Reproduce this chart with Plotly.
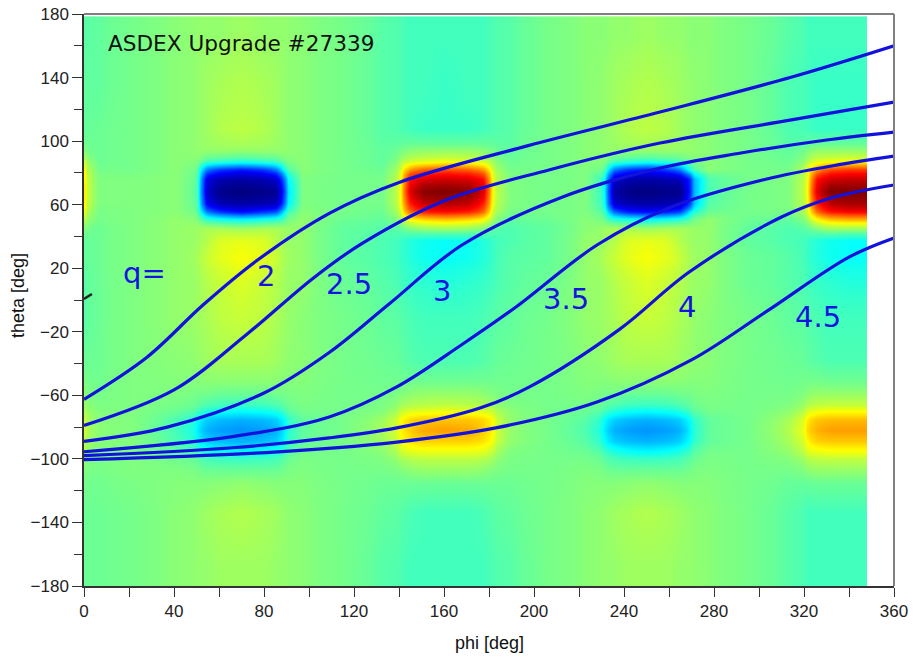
import plotly.graph_objects as go

# phi positions of the heat-map columns, theta positions of its rows
phi_knots = [0,3,20,47, 50,54,60,70,80,86,89,92, 115,137, 140,144,150,160,172,178,182,185, 205,228,
             231,235,241,250,259,265,269,273, 295,318, 321,325,331,340,348]
theta_knots = [178.5,130,105,92,87,82,77,68,60,55,51,46,38,28,12,-10,-40,-62,-69,-75,-82,-89,-95,-104,-125,-180]

r_p178 = [46,47,49,51, 52,52,52,53,52,52,52,51, 49,46, 45,44,44,44,44,44,45,46, 49,51, 51,52,52,53,52,52,51,51, 49,46, 44,44,44,44,44]
r_p130 = [47,47,49,51, 52,53,54,55,54,53,52,51, 49,46, 45,44,44,43,44,44,45,46, 49,51, 52,53,54,55,54,53,52,51, 49,45, 44,43,43,43,43]
r_p105 = [47,48,49,51, 52,53,55,56,55,53,52,51, 49,46, 45,44,43,43,43,44,45,46, 49,51, 52,53,55,56,55,53,52,51, 49,45, 44,43,43,43,43]
r_p92  = [50,48,49,51, 52,52,52,52,52,52,52,51, 49,47, 49,51,52,52,52,51,49,47, 49,51, 52,52,52,52,52,52,52,51, 49,47, 50,52,52,52,52]
r_p87  = [57,48,49,51, 50,44,42,40,42,44,48,51, 49,47, 54,58,60,62,60,58,53,48, 49,51, 50,44,42,40,42,44,48,51, 49,48, 55,60,62,63,63]
r_p82  = [61,49,49,51, 47,25,18,15,18,25,40,51, 49,48, 58,72,78,80,78,72,57,49, 49,50, 47,25,18,15,18,25,40,51, 49,49, 60,72,80,82,82]
r_p77  = [63,50,50,51, 45,10,5,4,5,8,25,50,     49,49, 61,86,91,92,91,86,60,50, 49,50, 38,8,5,4,5,6,16,45,     49,50, 61,86,92,93,93]
r_p68  = [64,50,50,51, 44,8,1,0,1,2,20,50,      49,49, 62,90,99,100,99,90,61,50, 49,50, 38,4,1,0,1,1,15,45,    49,50, 62,90,100,100,100]
r_p60  = [63,50,50,51, 45,12,5,4,5,6,24,50,     49,49, 61,84,93,95,93,84,60,50, 49,50, 39,8,5,4,5,6,18,46,     49,50, 61,84,94,96,96]
r_p55  = [60,49,50,51, 47,26,18,14,18,22,38,51, 49,48, 58,76,84,86,84,76,57,49, 49,50, 44,24,16,14,16,20,36,48, 49,49, 58,76,85,87,87]
r_p51  = [55,49,50,52, 50,43,40,38,40,42,46,52, 48,47, 53,62,66,68,66,62,53,47, 48,51, 48,42,40,38,40,42,46,52, 48,47, 53,62,68,70,70]
r_p46  = [50,48,50,52, 53,54,54,53,54,54,53,52, 47,46, 47,50,52,53,52,50,47,45, 47,51, 53,54,54,53,54,54,53,52, 47,45, 47,50,53,53,53]
r_p38  = [47,48,50,52, 53,55,59,60,59,55,53,52, 47,45, 43,41,39,38,39,41,43,45, 47,52, 53,55,59,60,59,55,53,52, 47,45, 43,41,39,38,38]
r_p28  = [47,48,50,52, 54,57,60,62,60,57,54,52, 47,45, 43,41,39,38,39,41,43,46, 47,52, 55,57,60,62,60,57,54,52, 48,46, 43,41,39,38,38]
r_p12  = [46,48,50,52, 53,55,57,59,57,55,53,52, 48,46, 44,43,42,41,42,43,44,46, 48,52, 53,55,57,59,57,55,53,52, 48,46, 44,43,42,41,41]
r_m10  = [46,48,50,52, 53,54,56,57,56,54,53,51, 49,47, 46,45,44,44,44,45,46,47, 49,52, 53,54,56,57,56,54,53,51, 49,47, 46,45,44,44,44]
r_m40  = [48,48,50,51, 52,53,54,54,54,53,52,51, 49,48, 47,46,45,45,45,46,47,48, 49,51, 52,53,54,54,54,53,52,51, 49,48, 47,46,45,45,45]
r_m62  = [51,49,50,50, 49,49,48,48,48,49,49,50, 49,49, 50,51,52,52,52,51,50,49, 49,50, 49,49,48,48,48,49,49,50, 49,49, 51,52,52,52,52]
r_m69  = [54,50,50,48, 45,42,40,39,40,42,45,49, 49,50, 56,58,59,60,59,58,56,51, 49,48, 45,42,40,39,40,42,45,49, 49,51, 58,60,61,61,61]
r_m75  = [57,51,50,45, 38,33,31,30,31,33,38,47, 49,53, 62,66,68,68,68,66,62,52, 49,46, 38,33,31,30,31,33,38,47, 49,54, 64,68,69,69,69]
r_m82  = [58,51,50,44, 36,30,28,27,28,30,36,47, 49,54, 63,67,71,72,71,67,63,52, 49,45, 36,30,28,27,28,30,36,47, 49,55, 66,70,72,72,72]
r_m89  = [56,51,50,45, 38,33,31,30,31,33,38,47, 49,53, 61,65,67,67,67,65,61,52, 49,46, 38,33,31,30,31,33,38,47, 49,54, 63,67,68,68,68]
r_m95  = [53,50,50,47, 44,41,39,38,39,41,44,49, 49,51, 57,59,60,60,60,59,56,50, 49,48, 44,41,39,38,39,41,44,49, 49,52, 59,60,61,61,61]
r_m104 = [50,49,50,50, 49,48,48,48,48,48,49,50, 49,49, 50,51,52,52,52,51,50,49, 49,50, 49,48,48,48,48,48,49,50, 49,49, 51,52,52,52,52]
r_m125 = [48,48,49,51, 52,53,54,55,54,53,52,51, 49,47, 46,45,44,44,44,45,46,47, 49,51, 52,53,54,55,54,53,52,51, 49,46, 44,44,44,44,44]
r_m180 = [48,48,49,51, 52,52,53,53,53,52,52,51, 49,46, 45,44,44,44,44,44,45,46, 49,51, 52,52,53,53,53,52,52,51, 49,46, 44,44,44,44,44]

field_rows = [r_p178,r_p130,r_p105,r_p92,r_p87,r_p82,r_p77,r_p68,r_p60,r_p55,r_p51,r_p46,r_p38,r_p28,r_p12,
              r_m10,r_m40,r_m62,r_m69,r_m75,r_m82,r_m89,r_m95,r_m104,r_m125,r_m180]

# field lines, one (phi, theta) pair of lists for each q
phi_q2 = [0,28,53,77,109,140,197,256,315,360]
theta_q2 = [-62.5,-36,-3,25,54.5,74,97,118.3,140.5,160]
phi_q25 = [0,40,72,102,124,161,207,256,315,360]
theta_q25 = [-79,-56.6,-22,13.9,36,63,82,98.8,113.5,124.6]
phi_q3 = [0,37,80,109,136,168,213,256,292,330,360]
theta_q3 = [-89,-80,-58.5,-33,-2,34.6,65,83,92.5,100.7,105.7]
phi_q35 = [0,66,109,139,168,192,228,261,303,337,360]
theta_q35 = [-95.5,-86,-73.6,-54.7,-28,-4.4,34.6,58.5,76,85.5,90.6]
phi_q4 = [0,66,109,139,176,198,238,269,310,332,360]
theta_q4 = [-98,-93,-86.8,-80.5,-68,-54.7,-18.5,17.6,52.2,64.2,72.4]
phi_q45 = [0,81,139,183,228,270,303,340,360]
theta_q45 = [-100.5,-96,-89.4,-80.5,-64.2,-37.7,-7.5,27,39]
q_curves = [(phi_q2,theta_q2),(phi_q25,theta_q25),(phi_q3,theta_q3),(phi_q35,theta_q35),(phi_q4,theta_q4),(phi_q45,theta_q45)]

q_labels = ["q=","2","2.5","3","3.5","4","4.5"]
q_label_phi = [27,80.8,117.6,158.9,214,268,326.3]
q_label_theta = [17,15.3,10.2,5.8,0.8,-4.2,-11]

mark_phi = [0,3.5]
mark_theta = [0.6,3.8]

x_ticks = [0,40,80,120,160,200,240,280,320,360]
x_minor = [20,60,100,140,180,220,260,300,340]
y_ticks = [180,140,100,60,20,-20,-60,-100,-140,-180]
y_labels = ["180","140","100","60","20","\u221220","\u221260","\u2212100","\u2212140","\u2212180"]
y_minor = [160,120,80,40,0,-40,-80,-120,-160]

jet = [[0,"#00007f"],[0.125,"#0000ff"],[0.25,"#0080ff"],[0.375,"#00ffff"],[0.5,"#80ff80"],
       [0.625,"#ffff00"],[0.75,"#ff8000"],[0.875,"#ff0000"],[1,"#7f0000"]]

def cell_edges(centres):
    mid = [(a + b) / 2 for a, b in zip(centres, centres[1:])]
    return [centres[0]] + mid + [centres[-1]]

fig = go.Figure()
fig.add_trace(go.Heatmap(x=cell_edges(phi_knots), y=cell_edges(theta_knots), z=field_rows,
                         zmin=0, zmax=100, colorscale=jet, zsmooth="best", showscale=False, hoverinfo="skip"))
for phi, theta in q_curves:
    fig.add_trace(go.Scatter(x=phi, y=theta, mode="lines", showlegend=False,
                             line=dict(color="#1212dc", width=3.2, shape="spline", smoothing=1)))
fig.add_trace(go.Scatter(x=mark_phi, y=mark_theta, mode="lines", showlegend=False,
                         line=dict(color="#222222", width=2.5)))

for txt, px, py in zip(q_labels, q_label_phi, q_label_theta):
    fig.add_annotation(x=px, y=py, text=txt, showarrow=False, xanchor="center", yanchor="middle",
                       font=dict(family="DejaVu Sans", size=29, color="#1414e0"))
fig.add_annotation(x=0.0271, y=0.9476, xref="paper", yref="paper", text="ASDEX Upgrade #27339", showarrow=False,
                   xanchor="left", yanchor="middle", font=dict(family="DejaVu Sans", size=21.6, color="#111111"))
title_font = dict(family="Liberation Sans", size=18, color="#111111")
fig.add_annotation(x=0.5, y=-0.0997, xref="paper", yref="paper", text="phi [deg]", showarrow=False,
                   xanchor="center", yanchor="middle", font=title_font)
fig.add_annotation(x=-0.0815, y=0.5087, xref="paper", yref="paper", text="theta [deg]", showarrow=False,
                   textangle=-90, xanchor="center", yanchor="middle", font=title_font)

fig.add_shape(type="line", xref="paper", yref="paper", x0=0, x1=1, y0=1, y1=1, line=dict(color="#808080", width=2))
fig.add_shape(type="line", xref="paper", yref="paper", x0=1, x1=1, y0=0, y1=1, line=dict(color="#808080", width=2))

tick_font = dict(family="Liberation Sans", size=17, color="#222222")
fig.update_layout(
    width=914, height=659, autosize=False,
    margin=dict(l=84, r=20, t=14, b=73, autoexpand=False),
    paper_bgcolor="white", plot_bgcolor="white", showlegend=False,
    font=dict(family="Liberation Sans"),
    xaxis=dict(range=[0,360], automargin=False, tickmode="array", tickvals=x_ticks, ticks="outside", ticklen=9, tickcolor="#333333",
               minor=dict(tickmode="array", tickvals=x_minor, ticks="outside", ticklen=9, tickcolor="#333333"),
               showgrid=False, zeroline=False, showline=True, linecolor="#333333", linewidth=1.5, tickfont=tick_font),
    yaxis=dict(range=[-180,180], automargin=False, tickmode="array", tickvals=y_ticks, ticktext=y_labels, ticks="outside", ticklen=10, tickcolor="#333333",
               minor=dict(tickmode="array", tickvals=y_minor, ticks="outside", ticklen=8, tickcolor="#333333"),
               showgrid=False, zeroline=False, showline=True, linecolor="#333333", linewidth=1.5, tickfont=tick_font),
)
fig.write_html("out.html", config=dict(displayModeBar=False), post_script="document.body.style.margin='0';")
